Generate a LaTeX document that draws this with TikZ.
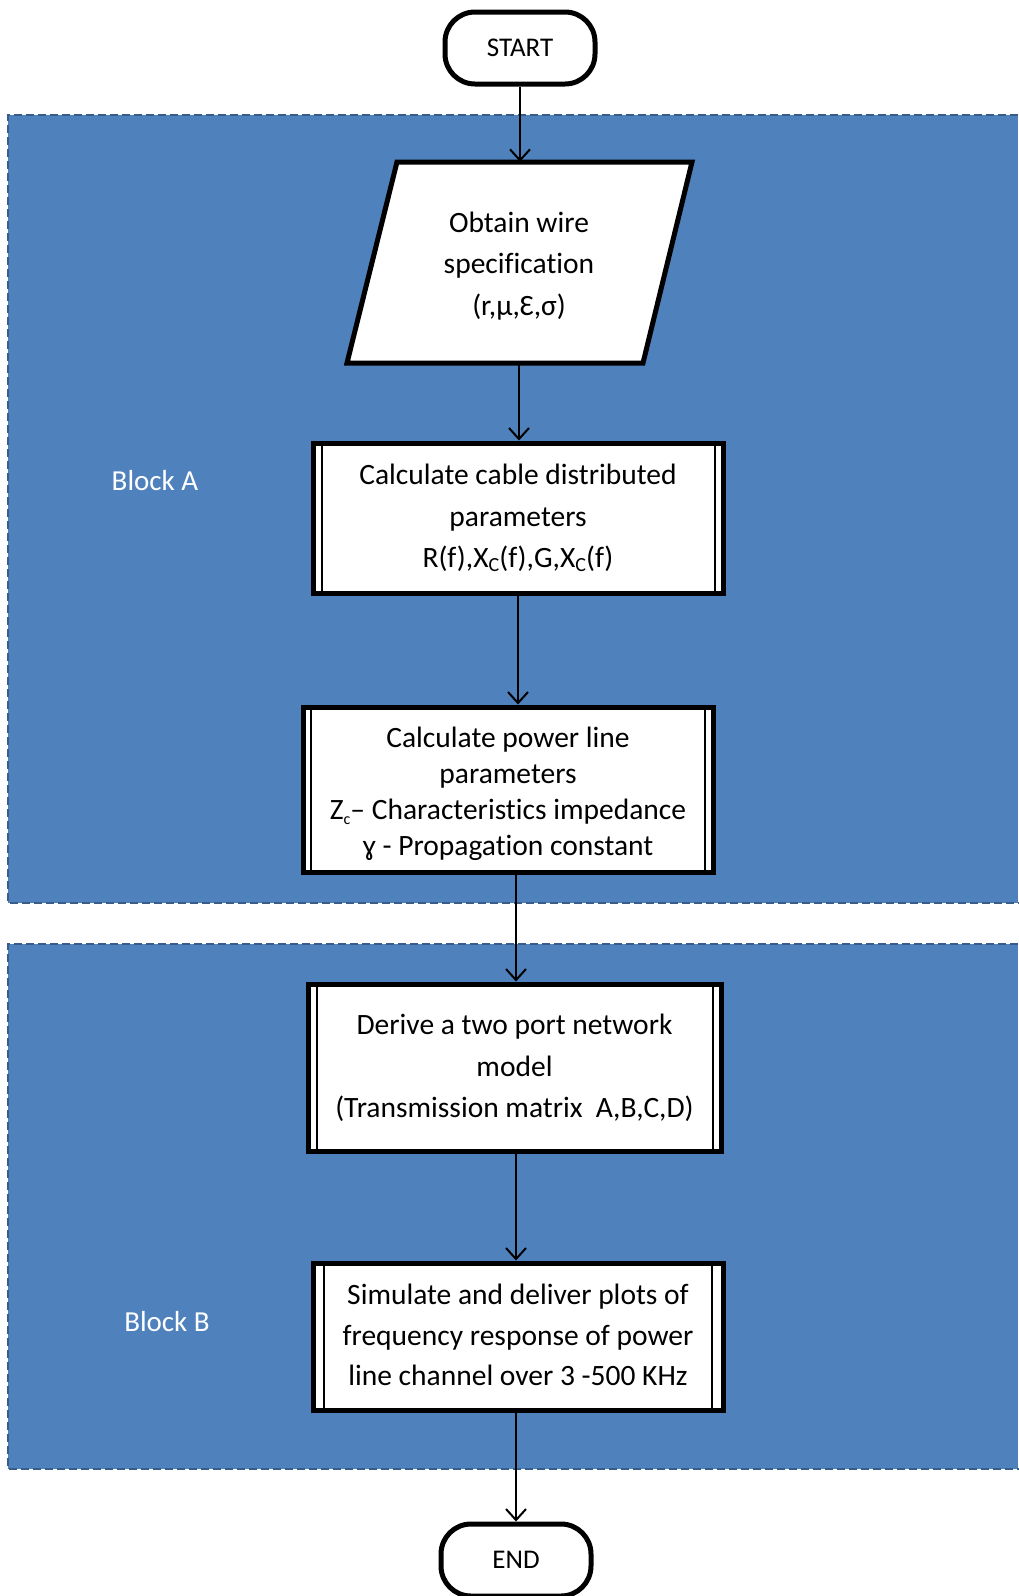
\documentclass[tikz,border=0pt]{standalone}
\usepackage{fontspec}
\setmainfont[Ligatures=NoCommon]{Carlito}
\usetikzlibrary{arrows.meta}
\definecolor{blockfill}{RGB}{79,129,189}
\definecolor{blockedge}{RGB}{56,93,138}
\newcommand{\subC}[1]{\raisebox{-0.3ex}{\fontsize{20}{20}\selectfont #1}}
\newcommand{\subc}[1]{\raisebox{-0.35ex}{\fontsize{16}{16}\selectfont #1}}
\newcommand{\lowered}[1]{\raisebox{-4pt}{#1}}
\tikzset{
  regionedge/.style={blockedge, line width=2pt, dash pattern=on 8pt off 4pt},
  regionlabel/.style={text=white, font=\fontsize{29}{34}\selectfont},
  terminal/.style={draw, line width=5pt, rounded corners=30pt, fill=white,
    minimum width=150pt, minimum height=72pt, font=\fontsize{27}{30}\selectfont},
  process/.style={draw, line width=5pt, fill=white, align=center, inner sep=0pt},
  inner/.style={line width=2pt},
  arr/.style={line width=2pt, -{Straight Barb[length=11pt, width=20pt, line width=2pt]}},
  txt/.style={align=center, font=\fontsize{29.5}{41.7}\selectfont}
}
\begin{document}
\begin{tikzpicture}[x=1pt, y=-1pt]
  \useasboundingbox (0,0) rectangle (1018,1596);
  \fill[white] (0,0) rectangle (1018,1596);

  % shaded regions, open on the right edge
  \fill[blockfill] (8,115) rectangle (1018,903);
  \fill[blockfill] (8,944) rectangle (1018,1469);
  \draw[regionedge] (1030,115) -- (8,115) -- (8,903) -- (1030,903);
  \draw[regionedge] (1030,944) -- (8,944) -- (8,1469) -- (1030,1469);
  \node[regionlabel] (blockA) at (155,481) {Block A};
  \node[regionlabel] (blockB) at (167,1322) {Block B};

  % terminals
  \node[terminal] (start) at (520,48) {\lowered{START}};
  \node[terminal] (end) at (516,1560) {\lowered{END}};

  % input parallelogram
  \draw[line width=5pt, fill=white, line join=miter]
    (397,162) -- (692,162) -- (643,363) -- (347,363) -- cycle;
  \node[txt, minimum height=201pt, inner sep=0pt] (para) at (519,262.5) {};
  \node[txt] (parat) at (519,266) {Obtain wire\\specification\\(r,µ,Ɛ,σ)};

  % process boxes
  \node[process, minimum width=410pt, minimum height=150pt] (calc1) at (518,518) {};
  \draw[inner] ([xshift=11pt]calc1.north west) -- ([xshift=11pt]calc1.south west);
  \draw[inner] ([xshift=-11pt]calc1.north east) -- ([xshift=-11pt]calc1.south east);
  \node[txt] (calc1t) at (518,518)
    {Calculate cable distributed\\parameters\\R(f),X\subC{C}(f),G,X\subC{C}(f)};

  \node[process, minimum width=410pt, minimum height=165pt] (calc2) at (508,789.5) {};
  \draw[inner] ([xshift=10pt]calc2.north west) -- ([xshift=10pt]calc2.south west);
  \draw[inner] ([xshift=-11pt]calc2.north east) -- ([xshift=-11pt]calc2.south east);
  \node[txt, font=\fontsize{29.5}{36}\selectfont] (calc2t) at (508,794)
    {Calculate power line\\parameters\\Z\subc{c}-- Characteristics impedance\\ɣ - Propagation constant};

  \node[process, minimum width=413pt, minimum height=167pt] (model) at (514.5,1067.5) {};
  \draw[inner] ([xshift=11pt]model.north west) -- ([xshift=11pt]model.south west);
  \draw[inner] ([xshift=-11pt]model.north east) -- ([xshift=-11pt]model.south east);
  \node[txt] (modelt) at (514.5,1068)
    {Derive a two port network\\model\\(Transmission matrix\ \ A,B,C,D)};

  \node[process, minimum width=410pt, minimum height=147pt] (sim) at (518,1336.5) {};
  \draw[inner] ([xshift=13pt]sim.north west) -- ([xshift=13pt]sim.south west);
  \draw[inner] ([xshift=-14pt]sim.north east) -- ([xshift=-14pt]sim.south east);
  \node[txt, font=\fontsize{29.5}{40.7}\selectfont] (simt) at (518,1335)
    {Simulate and deliver plots of\\frequency response of power\\line channel over 3 -500 KHz};

  % connectors
  \draw[arr] (start.south) -- (start.south |- para.north);
  \draw[arr] (para.south) -- (para.south |- calc1.north);
  \draw[arr] (calc1.south) -- (calc1.south |- calc2.north);
  \draw[arr] ([xshift=8pt]calc2.south) -- ([xshift=8pt]calc2.south |- model.north);
  \draw[arr] ([xshift=1.5pt]model.south) -- ([xshift=1.5pt]model.south |- sim.north);
  \draw[arr] ([xshift=-2pt]sim.south) -- ([xshift=-2pt]sim.south |- end.north);
\end{tikzpicture}
\end{document}
